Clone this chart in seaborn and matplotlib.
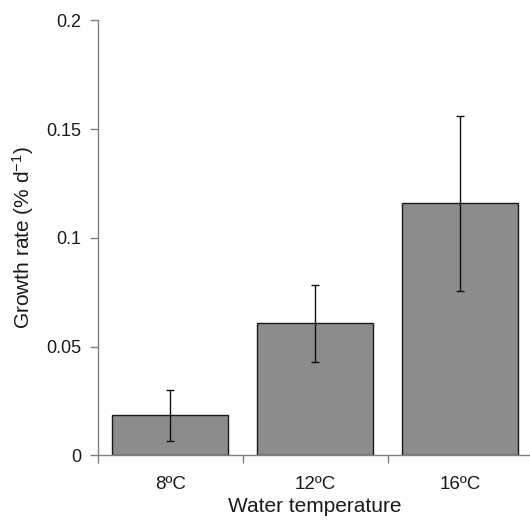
import numpy as np
import pandas as pd
import matplotlib
matplotlib.use('Agg')
import matplotlib.pyplot as plt
import seaborn as sns

# values
temps = ['8ºC', '12ºC', '16ºC']
growth = [0.0184, 0.0607, 0.1159]
growth_err = [0.0117, 0.0177, 0.0402]


def main():
    sns.set_style('ticks')
    plt.rcParams['font.family'] = ['Liberation Sans', 'DejaVu Sans']
    plt.rcParams['mathtext.fontset'] = 'custom'
    plt.rcParams['mathtext.rm'] = 'Liberation Sans'
    plt.rcParams['mathtext.it'] = 'Liberation Sans'

    df = pd.DataFrame({'temp': temps, 'rate': growth})

    fig = plt.figure(figsize=(5.3, 5.2), dpi=100)
    ax = fig.add_axes([0.1843, 0.1244, 0.821, 0.8366])

    sns.barplot(data=df, x='temp', y='rate', color='#8c8c8c', saturation=1,
                edgecolor='#1a1a1a', linewidth=1, errorbar=None, width=0.8, ax=ax)
    ax.errorbar(np.arange(len(temps)), growth, yerr=growth_err, fmt='none',
                ecolor='#111111', elinewidth=1, capsize=3, capthick=1)

    ax.set_xlim(-0.5, 2.5)
    ax.set_ylim(0, 0.2)
    ax.set_yticks([0, 0.05, 0.1, 0.15, 0.2])
    ax.set_yticklabels(['0', '0.05', '0.1', '0.15', '0.2'])
    ax.set_xticks([-0.5, 0.5, 1.5, 2.5], minor=True)
    ax.tick_params(axis='x', which='major', length=0, pad=15, labelsize=13.5,
                   labelcolor='#1a1a1a')
    ax.tick_params(axis='x', which='minor', length=6, width=1, color='#808080')
    ax.tick_params(axis='y', length=6, width=1, color='#808080', pad=6, labelsize=13,
                   labelcolor='#1a1a1a')

    sns.despine(ax=ax)
    for s in ['left', 'bottom']:
        ax.spines[s].set_color('#808080')
        ax.spines[s].set_linewidth(1)

    ax.set_xlabel('Water temperature', fontsize=15, labelpad=3, color='#1a1a1a')
    ax.set_ylabel('Growth rate (% d$^{\\mathregular{-1}}$)', fontsize=15, labelpad=7,
                  color='#1a1a1a')

    fig.savefig('out.png', dpi=100)


if __name__ == '__main__':
    main()
